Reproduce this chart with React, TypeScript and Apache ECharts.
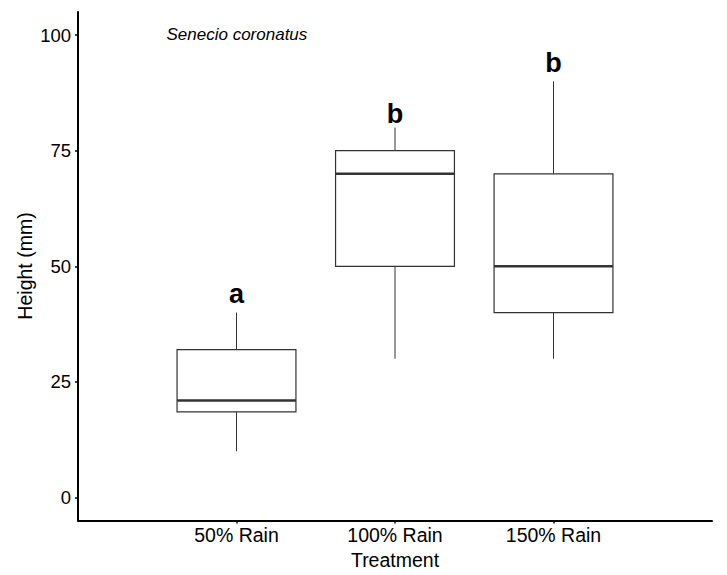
import React, { useEffect, useRef } from "react";
import * as echarts from "echarts";

const categories = ["50% Rain", "100% Rain", "150% Rain"];
const whiskerLow = [10, 30, 30];
const quartile1 = [18.5, 50, 40];
const medians = [21, 70, 50];
const quartile3 = [32, 75, 70];
const whiskerHigh = [40, 80, 90];
const letterY = [44, 83, 94];
const letters = ["a", "b", "b"];
const yTicks = [0, 25, 50, 75, 100];

const FONT = "'Liberation Sans', Arial, Helvetica, sans-serif";

export default function App() {
  const ref = useRef<HTMLDivElement>(null);
  useEffect(() => {
    document.body.style.margin = "0";
    const chart = echarts.init(ref.current!, null, { renderer: "svg" });
    const data = categories.map((_, i) => [
      i + 1,
      whiskerLow[i],
      quartile1[i],
      medians[i],
      quartile3[i],
      whiskerHigh[i],
      letterY[i],
    ]);
    chart.setOption({
      animation: false,
      backgroundColor: "#ffffff",
      grid: { left: 78, right: 15, top: 12, bottom: 54 },
      xAxis: {
        type: "value",
        min: 0,
        max: 4,
        axisLine: { show: true, onZero: false, lineStyle: { color: "#000", width: 2 } },
        axisTick: {
          show: true,
          customValues: [1, 2, 3],
          length: 3,
          lineStyle: { color: "#000", width: 1.5 },
        },
        axisLabel: {
          customValues: [1, 2, 3],
          formatter: (v: number) => categories[Math.round(v) - 1] ?? "",
          fontSize: 19.5,
          color: "#000",
          margin: 4.5,
          fontFamily: FONT,
        },
        splitLine: { show: false },
        name: "Treatment",
        nameLocation: "middle",
        nameGap: 20.5,
        nameTextStyle: { fontSize: 19.5, color: "#000", fontFamily: FONT },
      },
      yAxis: {
        type: "value",
        min: -5,
        max: 105,
        axisLine: { show: true, onZero: false, lineStyle: { color: "#000", width: 2 } },
        axisTick: {
          show: true,
          customValues: yTicks,
          length: 3,
          lineStyle: { color: "#000", width: 1.5 },
        },
        axisLabel: {
          customValues: yTicks,
          fontSize: 18.5,
          color: "#000",
          margin: 7,
          fontFamily: FONT,
        },
        splitLine: { show: false },
      },
      graphic: [
        {
          type: "text",
          x: 25,
          y: 266,
          rotation: Math.PI / 2,
          style: {
            text: "Height (mm)",
            fontSize: 19.5,
            fill: "#000",
            fontFamily: FONT,
            align: "center",
            verticalAlign: "middle",
          },
        },
        {
          type: "text",
          x: 166.5,
          y: 34.5,
          style: {
            text: "Senecio coronatus",
            fontSize: 17,
            fontStyle: "italic",
            fill: "#000",
            fontFamily: FONT,
            align: "left",
            verticalAlign: "middle",
          },
        },
      ],
      series: [
        {
          type: "custom",
          clip: false,
          data,
          renderItem: (params: any, api: any) => {
            const x = api.value(0);
            const [cx, yLow] = api.coord([x, api.value(1)]);
            const yQ1 = api.coord([x, api.value(2)])[1];
            const yMed = api.coord([x, api.value(3)])[1];
            const yQ3 = api.coord([x, api.value(4)])[1];
            const yHigh = api.coord([x, api.value(5)])[1];
            const yLet = api.coord([x, api.value(6)])[1];
            const w = api.size([0.75, 0])[0];
            const stroke = "#333333";
            return {
              type: "group",
              children: [
                {
                  type: "line",
                  shape: { x1: cx, y1: yQ3, x2: cx, y2: yHigh },
                  style: { stroke, lineWidth: 1 },
                },
                {
                  type: "line",
                  shape: { x1: cx, y1: yQ1, x2: cx, y2: yLow },
                  style: { stroke, lineWidth: 1 },
                },
                {
                  type: "rect",
                  shape: { x: cx - w / 2, y: yQ3, width: w, height: yQ1 - yQ3 },
                  style: { fill: "#ffffff", stroke, lineWidth: 1.2 },
                },
                {
                  type: "line",
                  shape: { x1: cx - w / 2, y1: yMed, x2: cx + w / 2, y2: yMed },
                  style: { stroke, lineWidth: 2.5 },
                },
                {
                  type: "text",
                  x: cx,
                  y: yLet,
                  style: {
                    text: letters[params.dataIndex],
                    fontSize: 27,
                    fontWeight: "bold",
                    fill: "#000",
                    fontFamily: FONT,
                    align: "center",
                    verticalAlign: "middle",
                  },
                },
              ],
            };
          },
        },
      ],
    });
    return () => chart.dispose();
  }, []);
  return <div ref={ref} style={{ width: 727, height: 575 }} />;
}
